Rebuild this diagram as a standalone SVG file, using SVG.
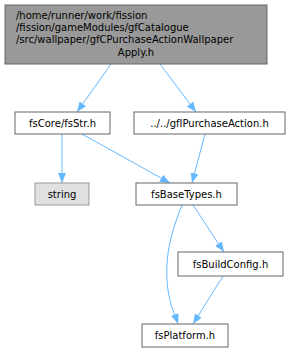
<svg xmlns="http://www.w3.org/2000/svg" width="290" height="352" viewBox="0 0 290 352">
<style>
.n rect{fill:#ffffff;stroke:#666666;stroke-width:1}
text{font-family:"DejaVu Sans",sans-serif;font-size:10px;fill:#000000;text-anchor:middle}
.e path{fill:none;stroke:#63b8ff;stroke-width:1}
</style>
<defs>
<marker id="a" viewBox="0 0 10 10" refX="10" refY="5" markerWidth="10" markerHeight="10" markerUnits="userSpaceOnUse" orient="auto">
<path d="M0,1 L10,5 L0,9 Z" fill="#63b8ff"/>
</marker>
</defs>
<rect width="290" height="352" fill="#ffffff"/>
<g class="e">
<path d="M111,64 L77,112" marker-end="url(#a)"/>
<path d="M160,64 L196,112" marker-end="url(#a)"/>
<path d="M62,134 L62,183" marker-end="url(#a)"/>
<path d="M82,134 L170,183" marker-end="url(#a)"/>
<path d="M205,134 L192,183" marker-end="url(#a)"/>
<path d="M182,205 C170,235 164,260 168,290 C170,305 175,315 178,324" marker-end="url(#a)"/>
<path d="M193,205 L224,252" marker-end="url(#a)"/>
<path d="M223,276 L193,324" marker-end="url(#a)"/>
</g>
<g id="node1" class="n">
<rect x="5" y="5" width="262" height="59" style="fill:#999999"/>
<text x="16" y="18.5" style="text-anchor:start">/home/runner/work/fission</text>
<text x="16" y="30.5" style="text-anchor:start">/fission/gameModules/gfCatalogue</text>
<text x="16" y="42.5" style="text-anchor:start">/src/wallpaper/gfCPurchaseActionWallpaper</text>
<text x="136" y="55.5">Apply.h</text>
</g>
<g id="node2" class="n">
<rect x="15" y="112" width="95" height="22"/>
<text x="62.5" y="126.5">fsCore/fsStr.h</text>
</g>
<g id="node3" class="n">
<rect x="134" y="112" width="151" height="22"/>
<text x="209.5" y="126.5">../../gfIPurchaseAction.h</text>
</g>
<g id="node4" class="n">
<rect x="35" y="183" width="54" height="22" style="fill:#e0e0e0;stroke:#999999"/>
<text x="62" y="197.5">string</text>
</g>
<g id="node5" class="n">
<rect x="136" y="183" width="101" height="22"/>
<text x="186.5" y="197.5">fsBaseTypes.h</text>
</g>
<g id="node6" class="n">
<rect x="178" y="252" width="105" height="24"/>
<text x="230.5" y="267.5">fsBuildConfig.h</text>
</g>
<g id="node7" class="n">
<rect x="142" y="324" width="86" height="23"/>
<text x="185" y="339">fsPlatform.h</text>
</g>
</svg>
